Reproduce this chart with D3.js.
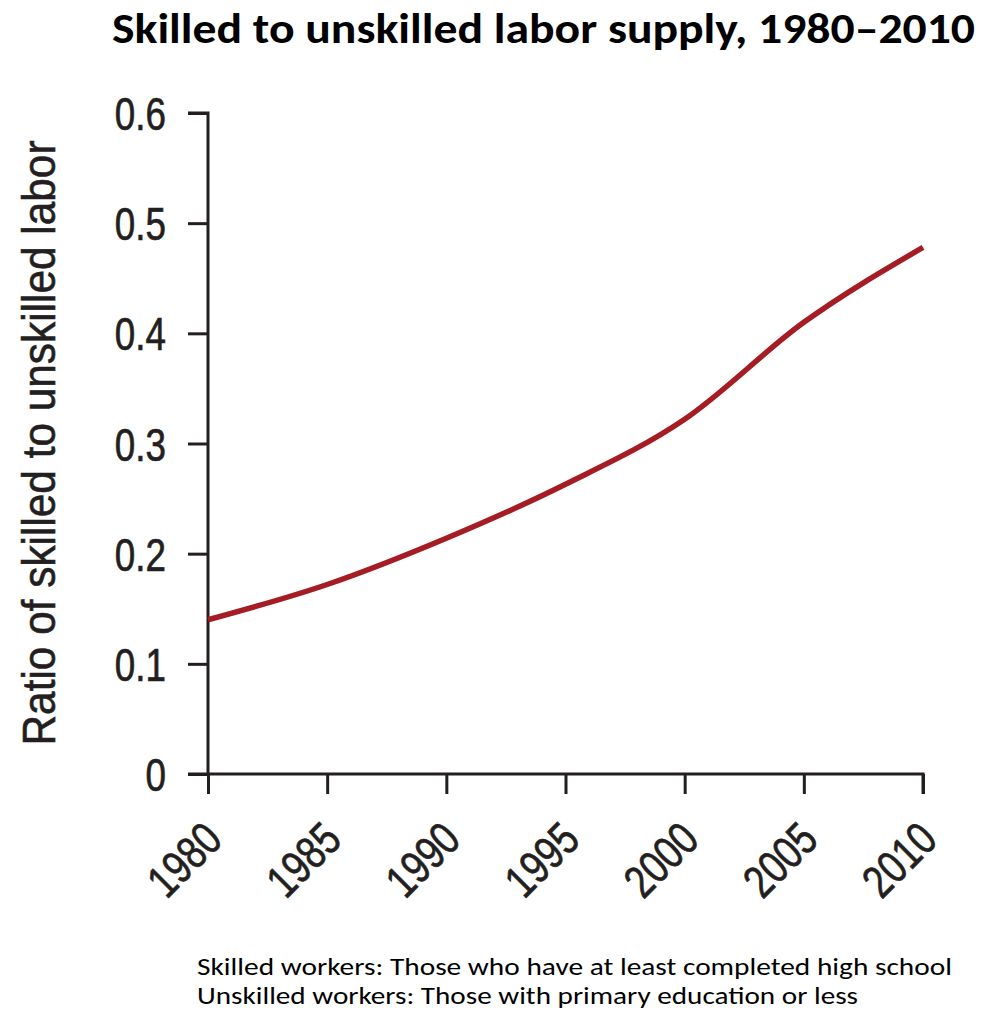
<!DOCTYPE html>
<html>
<head>
<meta charset="utf-8">
<script src="https://cdn.jsdelivr.net/npm/d3@7"></script>
<style>
  html, body { margin: 0; padding: 0; background: #fff; }
  svg { display: block; }
  .axis text { font-family: "Liberation Sans", Arial, sans-serif; fill: #231f20; stroke: #231f20; stroke-width: 0.7px; }
  .axis path, .axis line { stroke: #231f20; stroke-width: 3; }
</style>
</head>
<body>
<svg id="chart" width="982" height="1011"></svg>
<script>
// Ratio of skilled to unskilled labor supply
const years = [1980, 1985, 1990, 1995, 2000, 2005, 2010];
const ratio = [0.140, 0.172, 0.214, 0.263, 0.322, 0.410, 0.478];
const yTicks = [0, 0.1, 0.2, 0.3, 0.4, 0.5, 0.6];
const xTicks = [1980, 1985, 1990, 1995, 2000, 2005, 2010];

const titleText = "Skilled to unskilled labor supply, 1980\u20132010";
const yLabel = "Ratio of skilled to unskilled labor";
const notes = [
  "Skilled workers: Those who have at least completed high school",
  "Unskilled workers: Those with primary education or less"
];

const svg = d3.select("#chart");
const plotLeft = 208, plotRight = 923, plotTop = 113, plotBottom = 774;
const condense = 0.8; // narrow the sans face to a condensed look

const x = d3.scaleLinear().domain([1980, 2010]).range([plotLeft, plotRight]);
const y = d3.scaleLinear().domain([0, 0.6]).range([plotBottom, plotTop]);

function narrow(sel) {
  sel.each(function () {
    const w = this.getComputedTextLength();
    d3.select(this).attr("textLength", w * condense).attr("lengthAdjust", "spacingAndGlyphs");
  });
}

// Title
svg.append("text")
  .attr("x", 112).attr("y", 43)
  .attr("textLength", 863).attr("lengthAdjust", "spacingAndGlyphs")
  .style("font-family", "Carlito, Lato, 'Open Sans', sans-serif")
  .style("font-weight", "bold").style("font-size", "42px").style("fill", "#000")
  .text(titleText);

// Y axis
const yAxis = svg.append("g").attr("class", "axis")
  .attr("transform", `translate(${plotLeft},0)`)
  .call(d3.axisLeft(y).tickValues(yTicks).tickSize(20).tickPadding(22)
    .tickFormat(d => d === 0 ? "0" : d3.format(".1f")(d)));
yAxis.select(".domain").attr("d", `M-20,${plotTop}H0V${plotBottom}`);
yAxis.selectAll("text").style("font-size", "46px").attr("dy", "0.36em").call(narrow);

// X axis
const xAxis = svg.append("g").attr("class", "axis")
  .attr("transform", `translate(0,${plotBottom})`)
  .call(d3.axisBottom(x).tickValues(xTicks).tickSize(20).tickFormat(d3.format("d")));
xAxis.select(".domain").attr("d", `M${plotLeft - 20},0H${plotRight}V20`);
xAxis.selectAll("text")
  .style("font-size", "46px")
  .attr("text-anchor", "end")
  .attr("dy", null)
  .attr("y", null)
  .attr("transform", "translate(16,68) rotate(-45)")
  .call(narrow);

// Y axis title
svg.append("text")
  .attr("transform", `translate(55,443) rotate(-90)`)
  .attr("text-anchor", "middle")
  .attr("textLength", 605).attr("lengthAdjust", "spacingAndGlyphs")
  .style("font-family", "'Liberation Sans', Arial, sans-serif")
  .style("font-size", "46px").style("fill", "#231f20")
  .style("stroke", "#231f20").style("stroke-width", "0.6px")
  .text(yLabel);

// Series line
const data = years.map((yr, i) => ({ year: yr, value: ratio[i] }));
svg.append("path")
  .datum(data)
  .attr("fill", "none")
  .attr("stroke", "#a51c24")
  .attr("stroke-width", 5.5)
  .attr("d", d3.line().x(d => x(d.year)).y(d => y(d.value)).curve(d3.curveMonotoneX));

// Footnotes
svg.selectAll("text.note").data(notes).enter().append("text")
  .attr("class", "note")
  .attr("x", 197)
  .attr("y", (d, i) => 975 + i * 29)
  .attr("textLength", (d, i) => i === 0 ? 755 : 661)
  .attr("lengthAdjust", "spacingAndGlyphs")
  .style("font-family", "Carlito, Lato, 'Open Sans', sans-serif")
  .style("font-size", "24px").style("fill", "#000")
  .text(d => d);
</script>
</body>
</html>
